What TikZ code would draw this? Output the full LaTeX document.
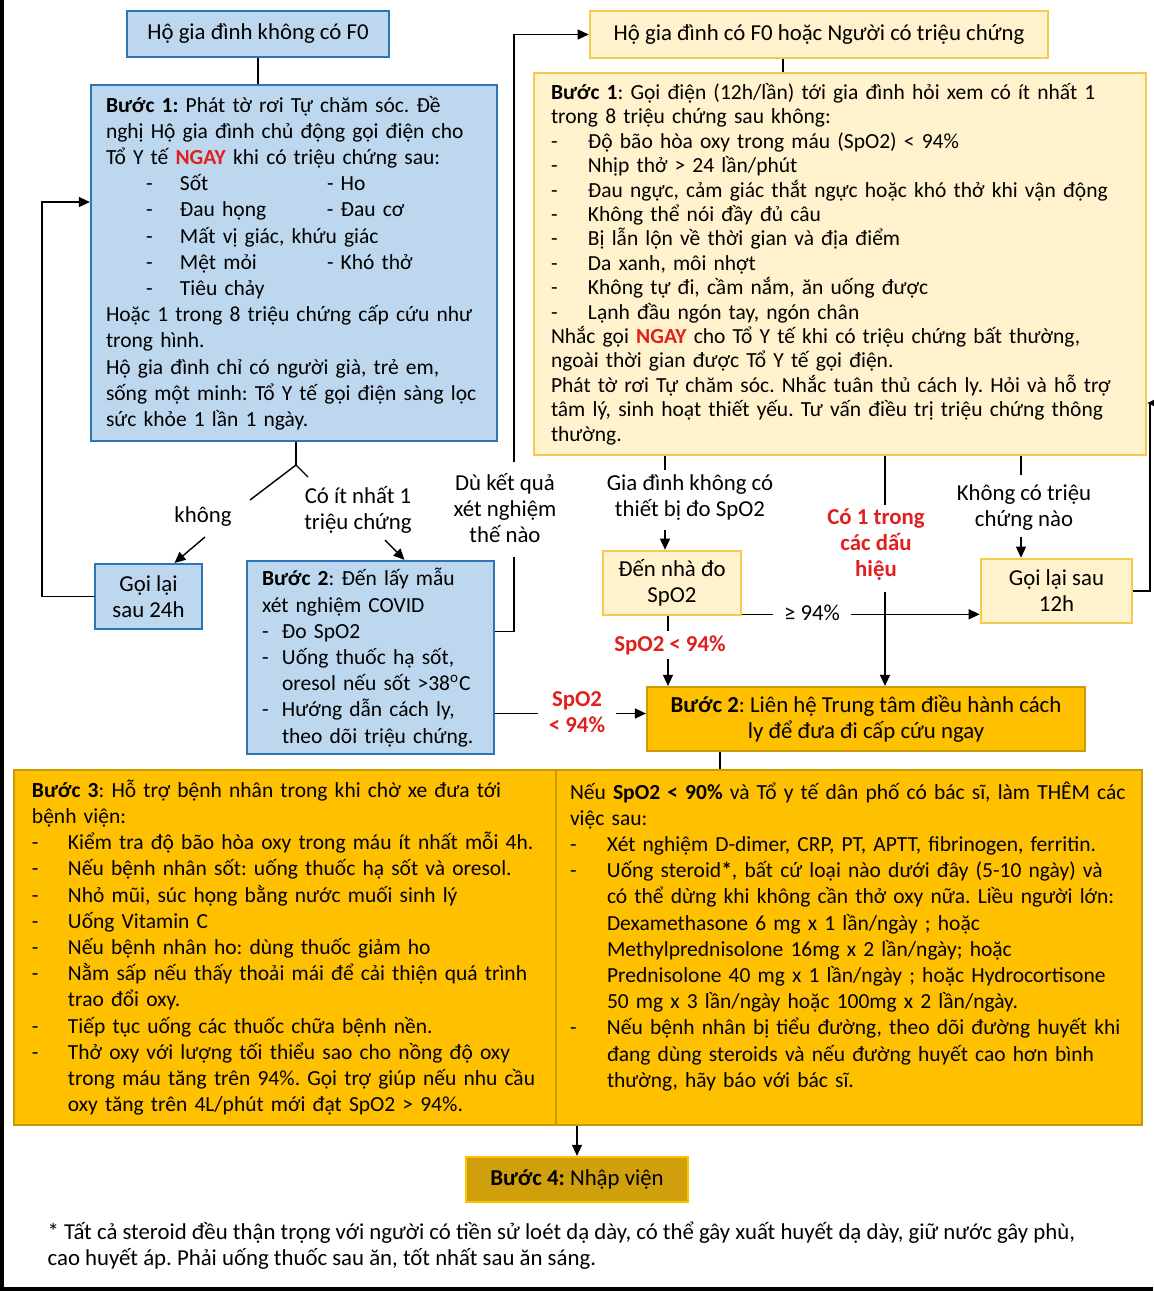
\documentclass[tikz,border=0pt]{standalone}
\usepackage{fontspec}
\setmainfont{Carlito}
\usetikzlibrary{arrows.meta,calc}
\frenchspacing
\definecolor{fillblue}{HTML}{BDD7EE}
\definecolor{lineblue}{HTML}{2E75B6}
\definecolor{creamfill}{HTML}{FFF2CC}
\definecolor{creamline}{HTML}{F2CC4E}
\definecolor{goldfill}{HTML}{FFC000}
\definecolor{goldline}{HTML}{C99A06}
\definecolor{darkgold}{HTML}{CFA00C}
\definecolor{alertred}{HTML}{E0201E}
\newcommand{\diagfont}{\fontsize{11.4}{13}\selectfont}
\newcommand{\bodyfont}{\fontsize{10.75}{13.1}\selectfont}
\newcommand{\tabdash}[2][0pt]{\makebox[#2][l]{\hspace*{#1}-}}
\newcommand{\ngay}{\textcolor{alertred}{\textbf{NGAY}}}
\tikzset{
  bluebox/.style={draw=lineblue,fill=fillblue,line width=1.1pt},
  creambox/.style={draw=creamline,fill=creamfill,line width=1.3pt},
  goldbox/.style={draw=goldline,fill=goldfill,line width=1.1pt},
  txtbox/.style={align=left,inner ysep=0pt,font=\bodyfont},
  lbl/.style={align=center,inner sep=2pt},
  redlbl/.style={lbl,text=alertred,font=\diagfont\bfseries},
  arr/.style={-{Triangle[length=5.5pt,width=5pt]}},
}
\begin{document}
\begin{tikzpicture}[x=0.5pt,y=-0.5pt,line width=0.7pt,font=\diagfont]
\useasboundingbox (0,0) rectangle (1153,1291);
% left column
\node[bluebox,minimum width=131pt,minimum height=23pt] (nof0) at (258,34) {Hộ gia đình không có F0};
\node[bluebox,txtbox,text width=188pt,inner xsep=7.5pt,minimum height=178pt] (bstep1) at (294,263) {\textbf{Bước 1:} Phát tờ rơi Tự chăm sóc. Đề\\
nghị Hộ gia đình chủ động gọi điện cho\\
Tổ Y tế \ngay{} khi có triệu chứng sau:\\
\makebox[110.5pt][l]{\tabdash[20pt]{37pt}Sốt}- Ho\\
\makebox[110.5pt][l]{\tabdash[20pt]{37pt}Đau họng}- Đau cơ\\
\tabdash[20pt]{37pt}Mất vị giác, khứu giác\\
\makebox[110.5pt][l]{\tabdash[20pt]{37pt}Mệt mỏi}- Khó thở\\
\tabdash[20pt]{37pt}Tiêu chảy\\
Hoặc 1 trong 8 triệu chứng cấp cứu như\\
trong hình.\\
Hộ gia đình chỉ có người già, trẻ em,\\
sống một minh: Tổ Y tế gọi điện sàng lọc\\
sức khỏe 1 lần 1 ngày.};
\node[bluebox,align=center,minimum width=53.5pt,minimum height=32.5pt] (recall24) at (148.5,596.5) {Gọi lại\\sau 24h};
\node[bluebox,txtbox,text width=108.5pt,inner xsep=7.5pt,minimum height=96.5pt] (bstep2) at (370.5,657.5) {\textbf{Bước 2}: Đến lấy mẫu\\
xét nghiệm COVID\\
\tabdash{10pt}Đo SpO2\\
\tabdash{10pt}Uống thuốc hạ sốt,\\
\hspace*{10pt}oresol nếu sốt >38\textsuperscript{o}C\\
\tabdash{10pt}Hướng dẫn cách ly,\\
\hspace*{10pt}theo dõi triệu chứng.};
% right column
\node[creambox,minimum width=229pt,minimum height=23.5pt] (hasf0) at (819,34.5) {Hộ gia đình có F0 hoặc Người có triệu chứng};
\node[creambox,txtbox,font=\fontsize{10.75}{12.2}\selectfont,text width=289pt,inner xsep=8.5pt,minimum height=191pt] (ystep1) at (840,264) {\textbf{Bước 1}: Gọi điện (12h/lần) tới gia đình hỏi xem có ít nhất 1\\
trong 8 triệu chứng sau không:\\
\tabdash{18.5pt}Độ bão hòa oxy trong máu (SpO2) < 94\%\\
\tabdash{18.5pt}Nhịp thở > 24 lần/phút\\
\tabdash{18.5pt}Đau ngực, cảm giác thắt ngực hoặc khó thở khi vận động\\
\tabdash{18.5pt}Không thể nói đầy đủ câu\\
\tabdash{18.5pt}Bị lẫn lộn về thời gian và địa điểm\\
\tabdash{18.5pt}Da xanh, môi nhợt\\
\tabdash{18.5pt}Không tự đi, cầm nắm, ăn uống được\\
\tabdash{18.5pt}Lạnh đầu ngón tay, ngón chân\\
Nhắc gọi \ngay{} cho Tổ Y tế khi có triệu chứng bất thường,\\
ngoài thời gian được Tổ Y tế gọi điện.\\
Phát tờ rơi Tự chăm sóc. Nhắc tuân thủ cách ly. Hỏi và hỗ trợ\\
tâm lý, sinh hoạt thiết yếu. Tư vấn điều trị triệu chứng thông\\
thường.};
\node[creambox,align=center,minimum width=69pt,minimum height=32pt] (homespo2) at (672,583) {Đến nhà đo\\SpO2};
\node[creambox,align=center,minimum width=75.5pt,minimum height=32pt] (recall12) at (1056.5,591) {Gọi lại sau\\12h};
\node[goldbox,align=center,minimum width=219pt,minimum height=32pt] (ostep2) at (866,719) {\textbf{Bước 2}: Liên hệ Trung tâm điều hành cách\\ly để đưa đi cấp cứu ngay};
% bottom
\node[goldbox,txtbox,text width=253pt,inner xsep=9pt,minimum height=177.5pt] (step3l) at (285,947.5) {\textbf{Bước 3}: Hỗ trợ bệnh nhân trong khi chờ xe đưa tới\\
bệnh viện:\\
\tabdash{18pt}Kiểm tra độ bão hòa oxy trong máu ít nhất mỗi 4h.\\
\tabdash{18pt}Nếu bệnh nhân sốt: uống thuốc hạ sốt và oresol.\\
\tabdash{18pt}Nhỏ mũi, súc họng bằng nước muối sinh lý\\
\tabdash{18pt}Uống Vitamin C\\
\tabdash{18pt}Nếu bệnh nhân ho: dùng thuốc giảm ho\\
\tabdash{18pt}Nằm sấp nếu thấy thoải mái để cải thiện quá trình\\
\hspace*{18pt}trao đổi oxy.\\
\tabdash{18pt}Tiếp tục uống các thuốc chữa bệnh nền.\\
\tabdash{18pt}Thở oxy với lượng tối thiểu sao cho nồng độ oxy\\
\hspace*{18pt}trong máu tăng trên 94\%. Gọi trợ giúp nếu nhu cầu\\
\hspace*{18pt}oxy tăng trên 4L/phút mới đạt SpO2 > 94\%.};
\node[goldbox,txtbox,text width=279pt,inner xsep=7pt,minimum height=177.5pt] (step3r) at (849,947.5) {Nếu \textbf{SpO2 < 90\%} và Tổ y tế dân phố có bác sĩ, làm THÊM các\\
việc sau:\\
\tabdash{18.5pt}Xét nghiệm D-dimer, CRP, PT, APTT, fibrinogen, ferritin.\\
\tabdash{18.5pt}Uống steroid\textbf{*}, bất cứ loại nào dưới đây (5-10 ngày) và\\
\hspace*{18.5pt}có thể dừng khi không cần thở oxy nữa. Liều người lớn:\\
\hspace*{18.5pt}Dexamethasone 6 mg x 1 lần/ngày ; hoặc\\
\hspace*{18.5pt}Methylprednisolone 16mg x 2 lần/ngày; hoặc\\
\hspace*{18.5pt}Prednisolone 40 mg x 1 lần/ngày ; hoặc Hydrocortisone\\
\hspace*{18.5pt}50 mg x 3 lần/ngày hoặc 100mg x 2 lần/ngày.\\
\tabdash{18.5pt}Nếu bệnh nhân bị tiểu đường, theo dõi đường huyết khi\\
\hspace*{18.5pt}đang dùng steroids và nếu đường huyết cao hơn bình\\
\hspace*{18.5pt}thường, hãy báo với bác sĩ.\\
\mbox{}};
\node[draw=goldfill,fill=darkgold,line width=1.1pt,minimum width=111pt,minimum height=22.5pt] (step4) at (577,1179.5) {\textbf{Bước 4:} Nhập viện};
\node[anchor=north west,align=left,inner sep=0pt] (note) at (47,1221) {* Tất cả steroid đều thận trọng với người có tiền sử loét dạ dày, có thể gây xuất huyết dạ dày, giữ nước gây phù,\\
cao huyết áp. Phải uống thuốc sau ăn, tốt nhất sau ăn sáng.};
% labels
\node[lbl] (khong) at (203,517) {không};
\node[lbl] (coit) at (358,510) {Có ít nhất 1\\triệu chứng};
\node[lbl] (dukq) at (505,508) {Dù kết quả\\xét nghiệm\\thế nào};
\node[lbl] (nodev) at (690,498) {Gia đình không có\\thiết bị đo SpO2};
\node[redlbl] (signs) at (876,545) {Có 1 trong\\các dấu\\hiệu};
\node[lbl] (nosym) at (1024,508) {Không có triệu\\chứng nào};
\node[lbl,inner xsep=5pt] (ge) at (812,613) {≥ 94\%};
\node[redlbl] (spoa) at (670,645) {SpO2 < 94\%};
\node[redlbl,inner xsep=5pt] (spob) at (577,712) {SpO2\\< 94\%};
% connectors
\draw (nof0.south) -- (nof0.south |- bstep1.north);
\coordinate (fork) at (296,465);
\coordinate (forkl) at (250,500);
\coordinate (forkr) at (308,477);
\draw (fork |- bstep1.south) -- (fork);
\draw (forkl) -- (fork) -- (forkr);
\coordinate (kh) at (205,537);
\draw[arr] (kh) -- ([xshift=13pt]recall24.north);
\coordinate (ci) at (385,540);
\draw[arr] (ci) -- ([xshift=17pt]bstep2.north);
\coordinate (loop24) at (42,202);
\draw[arr] (recall24.west) -| (loop24) -- (loop24 -| bstep1.west);
\coordinate (dk1) at (514,557);
\coordinate (dk2) at (514,462);
\draw ([yshift=13pt]bstep2.east) -| (dk1);
\draw[arr] (dk2) |- (hasf0.west);
\coordinate (h0) at ([xshift=-18pt]hasf0.south);
\draw (h0) -- (h0 |- ystep1.north);
\coordinate (g1) at (665,470);
\coordinate (g2) at (665,530);
\draw (g1 |- ystep1.south) -- (g1);
\draw[arr] (g2) -- (g2 |- homespo2.north);
\coordinate (s1) at (885,505);
\coordinate (s2) at (885,592);
\draw (s1 |- ystep1.south) -- (s1);
\draw[arr] (s2) -- (s2 |- ostep2.north);
\coordinate (n1) at (1021,475);
\coordinate (n2) at (1021,537);
\draw (n1 |- ystep1.south) -- (n1);
\draw[arr] (n2) -- (n2 |- recall12.north);
\coordinate (loop12) at (1150,403);
\draw[arr] (recall12.east) -| (loop12) -- (loop12 -| ystep1.east);
\coordinate (m1) at ([yshift=1pt]homespo2.south east);
\draw (m1) -- (m1 -| ge.west);
\draw[arr] (m1 -| ge.east) -- (m1 -| recall12.west);
\coordinate (hx) at ([xshift=-2pt]homespo2.south);
\draw (hx) -- (hx |- spoa.north);
\draw[arr] (hx |- spoa.south) -- (hx |- ostep2.north);
\coordinate (sb) at ([yshift=-28pt]bstep2.east);
\draw (sb) -- (sb -| spob.west);
\draw[arr] (sb -| spob.east) -- (sb -| ostep2.west);
\coordinate (o2) at ([xshift=-73pt]ostep2.south);
\draw (o2) -- (o2 |- step3r.north);
\draw[arr] (step4.north |- step3r.south) -- (step4.north);
% frame
\draw[line width=2pt] (2,0) -- (2,1289) -- (1153,1289);
\end{tikzpicture}
\end{document}
